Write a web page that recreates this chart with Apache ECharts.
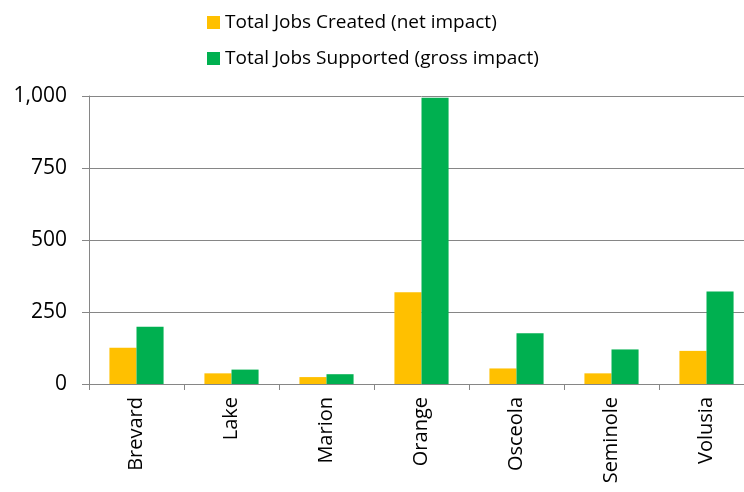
<!DOCTYPE html>
<html>
<head>
<meta charset="utf-8">
<script src="https://cdn.jsdelivr.net/npm/echarts@6/dist/echarts.min.js"></script>
<style>
  html, body { margin: 0; padding: 0; background: #fff; overflow: hidden; }
  #chart { width: 760px; height: 492px; }
</style>
</head>
<body>
<div id="chart"></div>
<script>
// counties along the x axis
const counties = ['Brevard', 'Lake', 'Marion', 'Orange', 'Osceola', 'Seminole', 'Volusia']
// Total Jobs Created (net impact)
const jobsCreated = [126, 37, 24, 319, 54, 37, 115]
// Total Jobs Supported (gross impact)
const jobsSupported = [199, 50, 34, 994, 176, 120, 321]

const font = '"Open Sans", "Noto Sans", sans-serif'
const axisGray = '#868686'

// the original plot runs a little past the right edge of the picture,
// so the canvas is drawn wider than the window and clipped
const option = {
  animation: false,
  textStyle: { fontFamily: font },
  legend: {
    orient: 'vertical',
    left: 202,
    top: 6,
    icon: 'rect',
    itemWidth: 13,
    itemHeight: 13,
    itemGap: 13,
    textStyle: { fontFamily: font, fontSize: 19, color: '#000', lineHeight: 23 },
    data: ['Total Jobs Created (net impact)', 'Total Jobs Supported (gross impact)']
  },
  grid: {
    left: 89,
    width: 665,
    top: 96,
    bottom: 108,
    containLabel: false
  },
  xAxis: {
    type: 'category',
    data: counties,
    axisLine: { lineStyle: { color: axisGray, width: 1 } },
    axisTick: { show: true, length: 6, lineStyle: { color: axisGray } },
    axisLabel: {
      rotate: 90,
      margin: 13,
      fontFamily: font,
      fontSize: 20,
      color: '#000'
    }
  },
  yAxis: {
    type: 'value',
    min: 0,
    max: 1000,
    interval: 250,
    axisLine: { show: true, lineStyle: { color: axisGray } },
    axisTick: { show: true, length: 7, lineStyle: { color: axisGray } },
    splitLine: { lineStyle: { color: axisGray, width: 1 } },
    axisLabel: {
      margin: 22,
      fontFamily: font,
      fontSize: 21,
      color: '#000',
      formatter: v => v.toLocaleString('en-US')
    }
  },
  series: [
    {
      name: 'Total Jobs Created (net impact)',
      type: 'bar',
      data: jobsCreated,
      barGap: '0%',
      barCategoryGap: '43%',
      itemStyle: { color: '#FFC000' }
    },
    {
      name: 'Total Jobs Supported (gross impact)',
      type: 'bar',
      data: jobsSupported,
      barGap: '0%',
      barCategoryGap: '43%',
      itemStyle: { color: '#00B050' }
    }
  ]
}

const chart = echarts.init(document.getElementById('chart'))
chart.setOption(option)
</script>
</body>
</html>
